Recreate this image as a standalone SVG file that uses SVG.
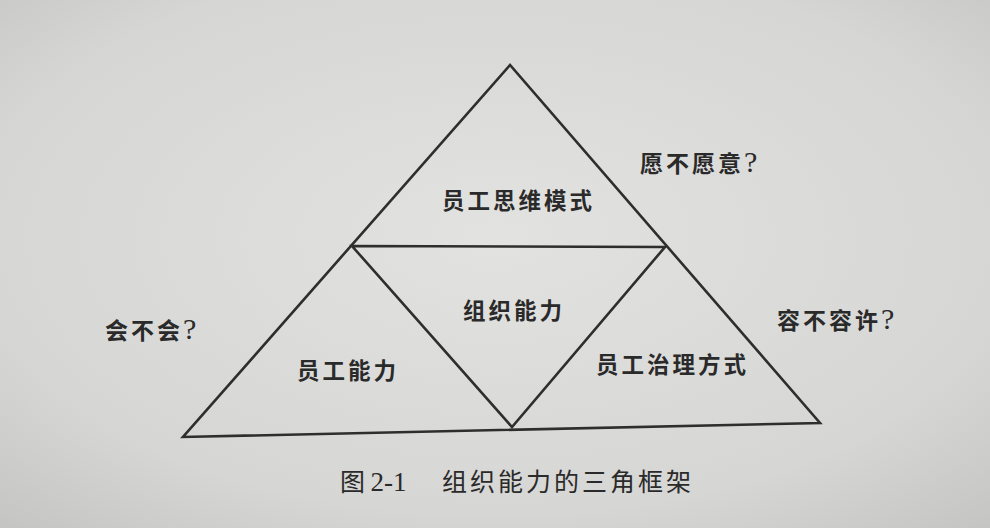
<svg xmlns="http://www.w3.org/2000/svg" width="990" height="528" viewBox="0 0 990 528">
<defs>
<radialGradient id="bg" cx="0.5" cy="0.45" r="0.75">
<stop offset="0" stop-color="#e2e2e0"/>
<stop offset="0.7" stop-color="#d6d6d4"/>
<stop offset="1" stop-color="#c4c4c2"/>
</radialGradient>
<style>
.ln{fill:none;stroke:#2e2e2e;stroke-width:2.6;stroke-linejoin:miter}
.lb{font-family:"Noto Sans CJK SC","Noto Sans",sans-serif;font-size:22.5px;font-weight:700;fill:#2a2a2a;letter-spacing:3px}
.q{font-family:"Noto Sans CJK SC","Noto Sans",sans-serif;font-size:23px;font-weight:700;fill:#2a2a2a;letter-spacing:3px}
.qm{font-family:"Liberation Serif",serif;font-weight:400;font-size:30px}
.cap{font-family:"Noto Sans CJK SC","Liberation Serif",serif;font-size:25px;font-weight:400;fill:#2a2a2a}
.num{font-family:"Liberation Serif",serif;font-size:27px}
</style>
</defs>
<rect width="990" height="528" fill="url(#bg)"/>
<g id="connectors">
<path class="ln" d="M510,65 L183,437 L820,423 Z"/>
<path class="ln" d="M352,246 L665,247 L512,427 Z"/>
</g>
<g id="top"><text class="lb" x="442" y="209">员工思维模式</text></g>
<g id="center"><text class="lb" x="463" y="319">组织能力</text></g>
<g id="left"><text class="lb" x="297" y="379">员工能力</text></g>
<g id="right"><text class="lb" x="596" y="373">员工治理方式</text></g>
<g id="q1"><text class="q" x="640" y="172">愿不愿意<tspan class="qm">?</tspan></text></g>
<g id="q2"><text class="q" x="105" y="339">会不会<tspan class="qm">?</tspan></text></g>
<g id="q3"><text class="q" x="777" y="329">容不容许<tspan class="qm">?</tspan></text></g>
<g id="caption"><text class="cap" x="340" y="491">图 <tspan class="num">2-1</tspan></text><text class="cap" x="442" y="491" letter-spacing="3">组织能力的三角框架</text></g>
</svg>
